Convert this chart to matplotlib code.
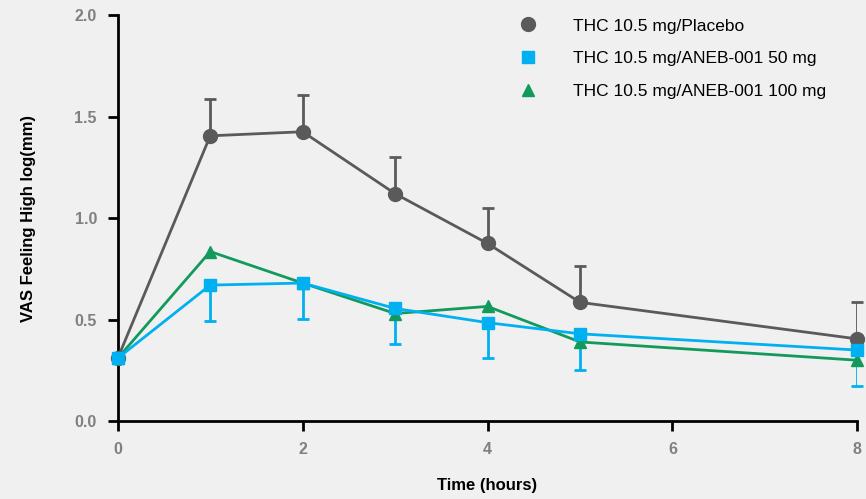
import matplotlib
matplotlib.use("Agg")
import matplotlib.pyplot as plt
import numpy as np

# Data
time_h = [0, 1, 2, 3, 4, 5, 8]

placebo = [0.31, 1.405, 1.425, 1.12, 0.875, 0.585, 0.405]
placebo_err = [0.0, 0.18, 0.18, 0.18, 0.175, 0.18, 0.18]

aneb50 = [0.31, 0.67, 0.68, 0.555, 0.485, 0.43, 0.35]
aneb50_err = [0.0, 0.175, 0.175, 0.175, 0.175, 0.18, 0.175]

aneb100 = [0.31, 0.835, 0.68, 0.53, 0.565, 0.39, 0.30]

labels = ["THC 10.5 mg/Placebo", "THC 10.5 mg/ANEB-001 50 mg", "THC 10.5 mg/ANEB-001 100 mg"]
colors = ["#5a5a5a", "#00b0f0", "#129a5c"]

plt.rcParams['font.family'] = ['Liberation Sans', 'DejaVu Sans']

fig = plt.figure(figsize=(8.66, 4.99), dpi=100, facecolor="#f0f0f0")
ax = fig.add_axes([0.136, 0.156, 0.854, 0.814])
ax.set_facecolor("#f0f0f0")

# error bars: placebo upward only, 50 mg downward only
ax.errorbar(time_h, placebo, yerr=[np.zeros(len(placebo)), placebo_err], fmt="none",
            ecolor=colors[0], elinewidth=2, capsize=4, capthick=2, zorder=2)
ax.errorbar(time_h, aneb50, yerr=[aneb50_err, np.zeros(len(aneb50))], fmt="none",
            ecolor=colors[1], elinewidth=2, capsize=4, capthick=2, zorder=2)

ax.plot(time_h, placebo, color=colors[0], marker="o", markersize=10, lw=2, label=labels[0], zorder=3)
ax.plot(time_h, aneb50, color=colors[1], marker="s", markersize=9, lw=2, label=labels[1], zorder=4)
ax.plot(time_h, aneb100, color=colors[2], marker="^", markersize=9, lw=2, label=labels[2], zorder=3)

ax.set_xlim(0, 8)
ax.set_ylim(0, 2.0)
ax.set_xticks([0, 2, 4, 6, 8])
ax.set_yticks([0.0, 0.5, 1.0, 1.5, 2.0])
ax.set_yticklabels(["0.0", "0.5", "1.0", "1.5", "2.0"])

for s in ["top", "right"]:
    ax.spines[s].set_visible(False)
for s in ["left", "bottom"]:
    ax.spines[s].set_linewidth(2)
    ax.spines[s].set_color("black")
ax.tick_params(width=2, length=7, color="black", labelcolor="#808080", labelsize=11.5, pad=8)
for lab in ax.get_xticklabels() + ax.get_yticklabels():
    lab.set_fontweight("bold")

ax.set_xlabel("Time (hours)", fontsize=12, fontweight="bold", labelpad=15)
ax.set_ylabel("VAS Feeling High log(mm)", fontsize=12, fontweight="bold", labelpad=28)

ax.legend(loc="upper left", bbox_to_anchor=(0.51, 1.03), frameon=False, fontsize=12.5,
          handlelength=2.0, handletextpad=1.6, labelspacing=1.0)
for line in ax.get_legend().get_lines():
    line.set_linestyle("none")

for line in ax.lines:
    line.set_clip_on(False)

fig.savefig("out.png", dpi=100, facecolor=fig.get_facecolor())
